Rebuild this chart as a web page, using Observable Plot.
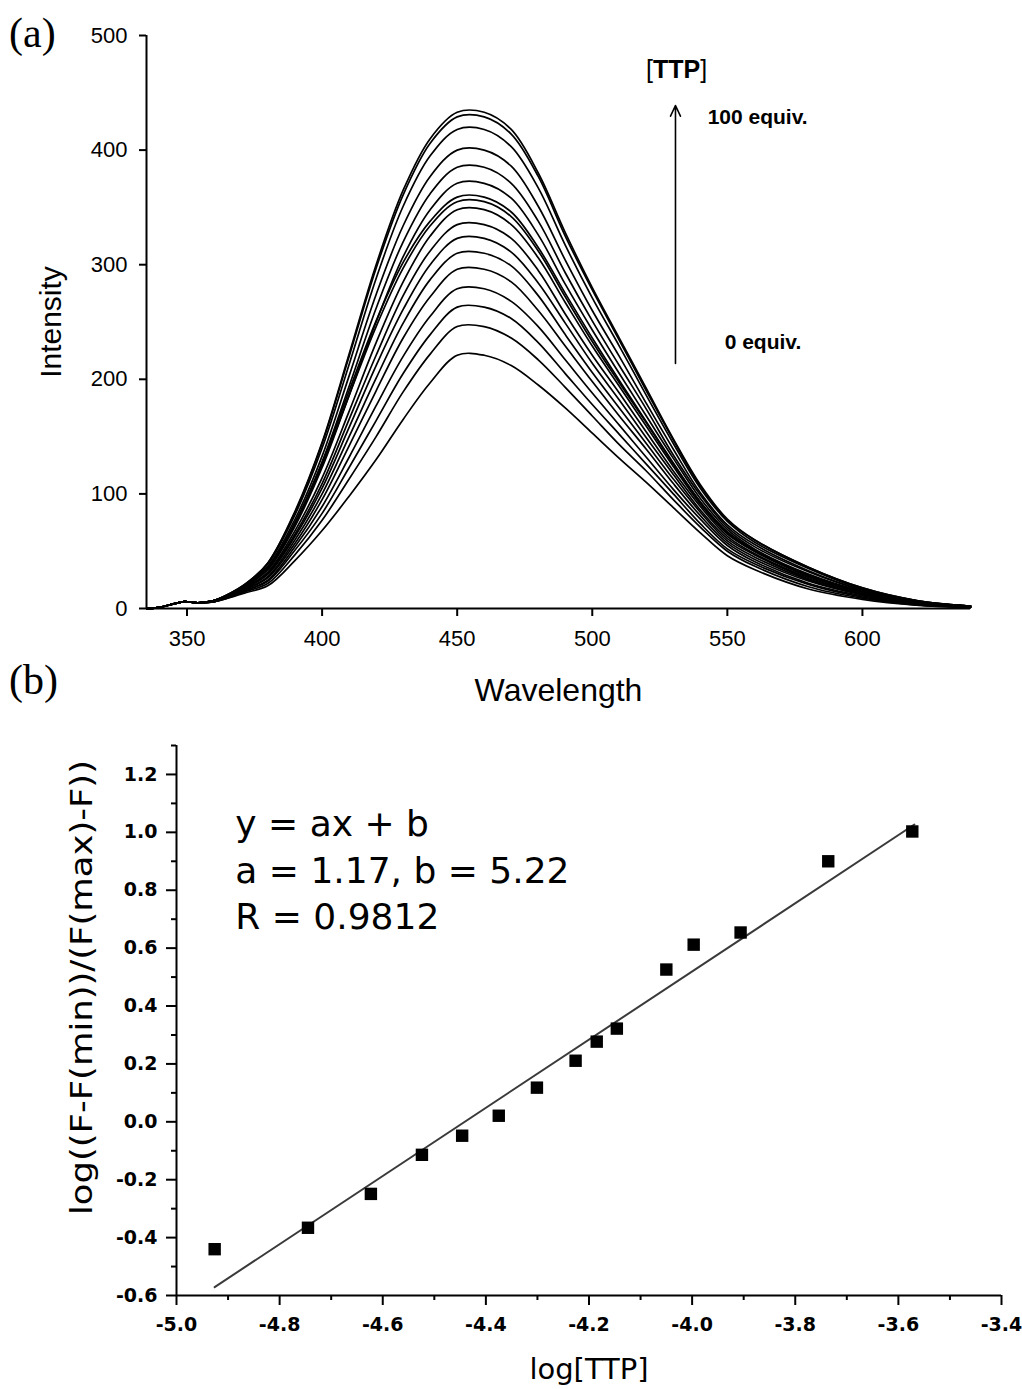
<!DOCTYPE html>
<html><head><meta charset="utf-8">
<script src="https://cdn.jsdelivr.net/npm/d3@7"></script>
<script src="https://cdn.jsdelivr.net/npm/@observablehq/plot@0.6"></script>
<style>
html,body{margin:0;padding:0;background:#fff}
body{width:1022px;height:1389px;position:relative;overflow:hidden}
.panel-label{position:absolute;font-family:"Liberation Serif","Times New Roman",serif;font-size:42px;line-height:1;color:#000}
#top,#bottom{position:absolute;left:0}
#top{top:0}
#bottom{top:710px}
#bottom g[aria-label="x-axis tick label"] text, #bottom g[aria-label="y-axis tick label"] text{font-weight:bold}
</style></head><body>
<div id="top"></div><div id="bottom"></div>
<div class="panel-label" style="left:9px;top:12px">(a)</div>
<div class="panel-label" style="left:9px;top:659px">(b)</div>
<script>
// ---------- Panel (a): emission spectra ----------
const wavelengths = [335,340,345,349,354,360,365,372,380,390,400,410,420,430,440,450,460,470,480,490,500,510,520,530,540,550,560,580,600,620,640];
const curve00 = [0,1,4,6,5,6,9, 14,20,42,68,98,130,165,197,221,221,212,195,175,153,131,110,88,66,46,34,17,8,3,1];
const curve01 = [0,1,4,6,5,6,9, 15,22,47,77,113,150,189,222,246,246,236,217,193,168,143,120,95,71,50,37,19,9,3,1];
const curve02 = [0,1,4,6,5,6,10, 16,24,51,83,123,164,205,239,263,263,253,232,205,178,152,126,100,74,52,39,21,10,4,1];
const curve03 = [0,1,4,6,5,6,10, 16,25,54,89,132,177,220,255,279,279,268,246,217,188,160,132,104,78,55,41,22,11,4,1];
const curve04 = [0,1,4,6,5,6,10, 17,27,57,95,142,190,236,272,296,296,285,260,229,198,168,139,109,81,57,43,24,12,4,1];
const curve05 = [0,1,4,6,5,6,10, 17,28,60,100,150,201,249,287,310,310,299,273,239,206,175,144,113,84,59,45,25,12,5,1];
const curve06 = [0,1,4,6,5,6,10, 18,30,63,105,158,212,261,300,323,323,311,284,249,214,182,149,117,86,61,47,26,13,5,1];
const curve07 = [0,1,4,6,5,7,11, 18,31,65,109,165,221,273,312,335,335,323,295,257,221,188,154,120,89,63,48,27,13,5,2];
const curve08 = [0,1,4,6,5,7,11, 19,32,68,114,172,232,285,325,348,348,335,306,267,229,194,159,124,91,65,50,28,14,5,2];
const curve09 = [0,1,4,6,5,7,11, 20,35,74,125,186,246,297,334,355,355,342,312,272,233,197,162,126,93,66,50,29,14,6,2];
const curve10 = [0,1,4,6,5,7,11, 20,35,75,127,190,251,302,338,359,359,346,315,275,236,199,163,127,93,67,51,29,15,6,2];
const curve11 = [0,1,4,6,5,7,11, 20,34,72,123,186,250,307,348,371,371,358,326,283,243,205,168,131,96,69,52,30,15,6,2];
const curve12 = [0,1,4,6,5,7,12, 20,36,75,128,194,262,320,362,385,385,371,338,293,251,212,174,134,99,71,54,32,16,6,2];
const curve13 = [0,1,4,6,5,7,12, 21,37,78,133,203,274,334,377,400,400,386,351,304,260,220,179,139,101,73,56,33,16,6,2];
const curve14 = [0,1,4,6,5,7,12, 21,39,82,140,213,288,351,395,418,418,403,367,317,271,229,186,144,105,76,58,35,17,7,2];
const curve15 = [0,1,4,6,5,7,12, 22,40,84,144,220,297,361,406,429,429,414,377,325,278,234,190,147,107,77,60,36,18,7,2];
const curve16 = [0,1,4,6,5,7,12, 22,40,85,145,222,300,365,410,433,433,418,380,328,280,236,192,148,108,78,60,36,18,7,2];
const curves = [curve00,curve01,curve02,curve03,curve04,curve05,curve06,curve07,curve08,curve09,curve10,curve11,curve12,curve13,curve14,curve15,curve16];

const xTicksA = [350,400,450,500,550,600];
const yTicksA = [0,100,200,300,400,500];

// annotations of panel (a)
const arrowX = [530.8], arrowFrom = [213.8], arrowTo = [438.9];
const equivText = ["100 equiv.", "0 equiv."];
const equivX = [542.7, 549.0];
const equivY = [428.8, 232.5];
const ttpText = ["[TTP]"], ttpX = [531.2], ttpY = [469.5];

// ---------- Panel (b): log plot ----------
const logTTP   = [-4.926,-4.745,-4.623,-4.524,-4.446,-4.375,-4.301,-4.226,-4.185,-4.146,-4.050,-3.997,-3.906,-3.736,-3.573];
const logRatio = [-0.440,-0.366,-0.249,-0.114,-0.048, 0.021, 0.118, 0.211, 0.277, 0.322, 0.526, 0.612, 0.654, 0.900, 1.003];
const fitX = [-4.926, -3.569];
const fitY = [-0.571, 1.027];
const xMajorB = [-5.0,-4.8,-4.6,-4.4,-4.2,-4.0,-3.8,-3.6,-3.4];
const xMinorB = [-4.9,-4.7,-4.5,-4.3,-4.1,-3.9,-3.7,-3.5];
const yMajorB = [-0.6,-0.4,-0.2,0.0,0.2,0.4,0.6,0.8,1.0,1.2];
const yMinorB = [-0.5,-0.3,-0.1,0.1,0.3,0.5,0.7,0.9,1.1,1.3];
const eqLines = ["y = ax + b", "a = 1.17, b = 5.22", "R = 0.9812"];
const eqX = [-4.886, -4.886, -4.886];
const eqY = [1.026, 0.866, 0.706];

// ---------- build panel (a) ----------
const spectraRows = curves.flatMap((c, k) => c.map((v, i) => ({wl: wavelengths[i], v, k})));
const arrowRows = arrowX.map((x, i) => ({x, y1: arrowFrom[i], y2: arrowTo[i]}));
const equivRows = equivText.map((t, i) => ({t, x: equivX[i], y: equivY[i]}));
const ttpRows = ttpText.map((t, i) => ({t, x: ttpX[i], y: ttpY[i]}));

const plotA = Plot.plot({
  width: 1022, height: 710,
  marginLeft: 146, marginRight: 52, marginTop: 35, marginBottom: 102,
  style: {fontFamily: '"Liberation Sans", Arial, sans-serif', fontSize: "22px", color: "#000", background: "#fff", overflow: "visible"},
  x: {domain: [335, 640]},
  y: {domain: [0, 500]},
  marks: [
    Plot.axisX({ticks: xTicksA, tickSize: 8, tickPadding: 14, label: null, strokeWidth: 2, fontSize: 22}),
    Plot.axisY({ticks: yTicksA, tickSize: 7, tickPadding: 12, label: null, strokeWidth: 2, fontSize: 22}),
    Plot.ruleX([335], {stroke: "#000", strokeWidth: 2}),
    Plot.ruleY([0], {stroke: "#000", strokeWidth: 2}),
    Plot.line(spectraRows, {x: "wl", y: "v", z: "k", curve: "catmull-rom", stroke: "#000", strokeWidth: 1.7}),
    Plot.arrow(arrowRows, {x1: "x", x2: "x", y1: "y1", y2: "y2", stroke: "#000", strokeWidth: 1.6, headLength: 11, headAngle: 50}),
    Plot.text(equivRows, {x: "x", y: "y", text: "t", textAnchor: "start", fontWeight: "bold", fontSize: 21}),
    Plot.text(ttpRows, {x: "x", y: "y", text: "t", fontSize: 25}),
    Plot.text(["Wavelength"], {text: d => d, frameAnchor: "bottom", lineAnchor: "middle", textAnchor: "middle", dy: 82, fontSize: 32}),
    Plot.text(["Intensity"], {text: d => d, frameAnchor: "left", lineAnchor: "middle", textAnchor: "middle", rotate: -90, dx: -95, fontSize: 30})
  ]
});
document.getElementById("top").appendChild(plotA);

// rich text for [TTP]
d3.select(plotA).selectAll("text").filter(function(){ return this.textContent === "[TTP]"; }).each(function(){
  const t = d3.select(this);
  t.text("");
  t.append("tspan").text("[");
  t.append("tspan").attr("font-weight", "bold").text("TTP");
  t.append("tspan").text("]");
});

// ---------- build panel (b) ----------
const pointRows = logTTP.map((x, i) => ({x, y: logRatio[i]}));
const fitRows = fitX.map((x, i) => ({x, y: fitY[i]}));
const eqRows = eqLines.map((t, i) => ({t, x: eqX[i], y: eqY[i]}));
const fmt = d => d.toFixed(1);

const plotB = Plot.plot({
  width: 1022, height: 679,
  marginLeft: 176, marginRight: 21, marginTop: 35, marginBottom: 94,
  style: {fontFamily: '"DejaVu Sans", sans-serif', fontSize: "19px", color: "#000", background: "#fff", overflow: "visible"},
  x: {domain: [-5.0, -3.4]},
  y: {domain: [-0.6, 1.3]},
  marks: [
    Plot.axisX({ticks: xMajorB, tickSize: 10, tickPadding: 12, tickFormat: fmt, label: null, strokeWidth: 2, fontWeight: "bold", fontSize: 19}),
    Plot.axisX({ticks: xMinorB, tickSize: 5, tickFormat: () => "", label: null, strokeWidth: 2}),
    Plot.axisY({ticks: yMajorB, tickSize: 10, tickPadding: 9, tickFormat: fmt, label: null, strokeWidth: 2, fontWeight: "bold", fontSize: 19}),
    Plot.axisY({ticks: yMinorB, tickSize: 5, tickFormat: () => "", label: null, strokeWidth: 2}),
    Plot.ruleX([-5.0], {stroke: "#000", strokeWidth: 2}),
    Plot.ruleY([-0.6], {stroke: "#000", strokeWidth: 2}),
    Plot.line(fitRows, {x: "x", y: "y", stroke: "#3a3a3a", strokeWidth: 2}),
    Plot.dot(pointRows, {x: "x", y: "y", symbol: "square", r: 7, fill: "#000", stroke: "none"}),
    Plot.text(eqRows, {x: "x", y: "y", text: "t", textAnchor: "start", fontSize: 36}),
    Plot.text(["log[TTP]"], {text: d => d, frameAnchor: "bottom", lineAnchor: "middle", textAnchor: "middle", dy: 74, fontSize: 29}),
    Plot.text(["log((F-F(min))/(F(max)-F))"], {text: d => d, frameAnchor: "left", lineAnchor: "middle", textAnchor: "middle", rotate: -90, dx: -94, dy: -33, fontSize: 30})
  ]
});
document.getElementById("bottom").appendChild(plotB);

d3.select(plotB).selectAll("text").filter(function(){ return this.textContent === "log((F-F(min))/(F(max)-F))"; })
  .attr("textLength", 455).attr("lengthAdjust", "spacingAndGlyphs");
</script></body></html>
